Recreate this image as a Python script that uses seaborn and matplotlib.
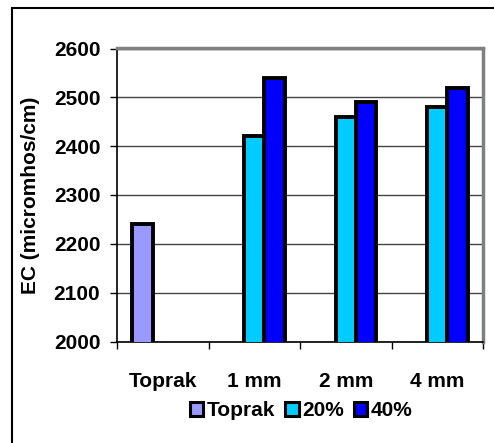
import matplotlib
matplotlib.use("Agg")
import matplotlib.pyplot as plt
from matplotlib.patches import Rectangle
import seaborn as sns
import pandas as pd

# Data
categories = ["Toprak", "1 mm", "2 mm", "4 mm"]
series = ["Toprak", "20%", "40%"]
toprak_vals = [2240, None, None, None]
pct20_vals = [None, 2420, 2460, 2480]
pct40_vals = [None, 2540, 2490, 2520]
colors = ["#9999FF", "#00CCFF", "#0000FF"]
y_ticks = [2000, 2100, 2200, 2300, 2400, 2500, 2600]

rows = []
for name, vals in zip(series, [toprak_vals, pct20_vals, pct40_vals]):
    for cat, v in zip(categories, vals):
        if v is not None:
            rows.append({"cat": cat, "series": name, "val": v})
df = pd.DataFrame(rows)

sns.set_theme(style="white")
plt.rcParams["font.family"] = ["Liberation Sans", "DejaVu Sans"]
plt.rcParams["font.weight"] = "bold"
for key in ["text.color", "axes.labelcolor", "xtick.color", "ytick.color"]:
    plt.rcParams[key] = "black"

FS = 15
W, H = 494, 443
fig = plt.figure(figsize=(W / 100, H / 100), dpi=100)
ax = fig.add_axes([117 / W, 1 - 341.5 / H, (483 - 117) / W, (341.5 - 48.5) / H])

sns.barplot(data=df, x="cat", y="val", hue="series", order=categories,
            hue_order=series, palette=colors, saturation=1, width=2 / 3,
            edgecolor="black", linewidth=2.8, errorbar=None, ax=ax, zorder=3)

ax.set_ylim(2000, 2600)
ax.set_xlim(-0.5, 3.5)
ax.set_yticks(y_ticks)
ax.set_yticklabels([str(t) for t in y_ticks], fontsize=FS, fontweight="bold")
ax.yaxis.grid(True, color="#444444", linewidth=1.0, zorder=0)
ax.set_axisbelow(True)

ax.set_xticks(range(len(categories)))
ax.set_xticklabels(categories, fontsize=FS, fontweight="bold")
ax.set_xticks([-0.5, 0.5, 1.5, 2.5, 3.5], minor=True)
ax.tick_params(axis="x", which="major", length=0, pad=22)
ax.tick_params(axis="x", which="minor", length=5, width=1, color="black", bottom=True)
ax.tick_params(axis="y", which="major", length=5, width=1, color="black", left=True, pad=7)

ax.set_xlabel("")
ax.set_ylabel("EC (micromhos/cm)", fontsize=FS, fontweight="bold", labelpad=10)

for side in ["left", "bottom"]:
    ax.spines[side].set_color("black")
    ax.spines[side].set_linewidth(1.2)
for side in ["top", "right"]:
    ax.spines[side].set_color("#808080")
    ax.spines[side].set_linewidth(2.5)

handles, labels = ax.get_legend_handles_labels()
ax.legend_.remove()
for h in handles:
    h.set_edgecolor("black")
    h.set_linewidth(2.2)
fig.legend(handles, labels, loc="center", bbox_to_anchor=(301 / W, 1 - 411 / H),
           ncol=3, frameon=False, prop={"weight": "bold", "size": FS},
           handlelength=0.65, handleheight=0.65, handletextpad=0.15, columnspacing=0.5)

# Outer chart frame
fig.patches.append(Rectangle((12 / W, -0.2), 1.2, 1 - 8 / H + 0.2,
                             transform=fig.transFigure, fill=False,
                             edgecolor="black", linewidth=1.5))

fig.savefig("out.png", dpi=100)
